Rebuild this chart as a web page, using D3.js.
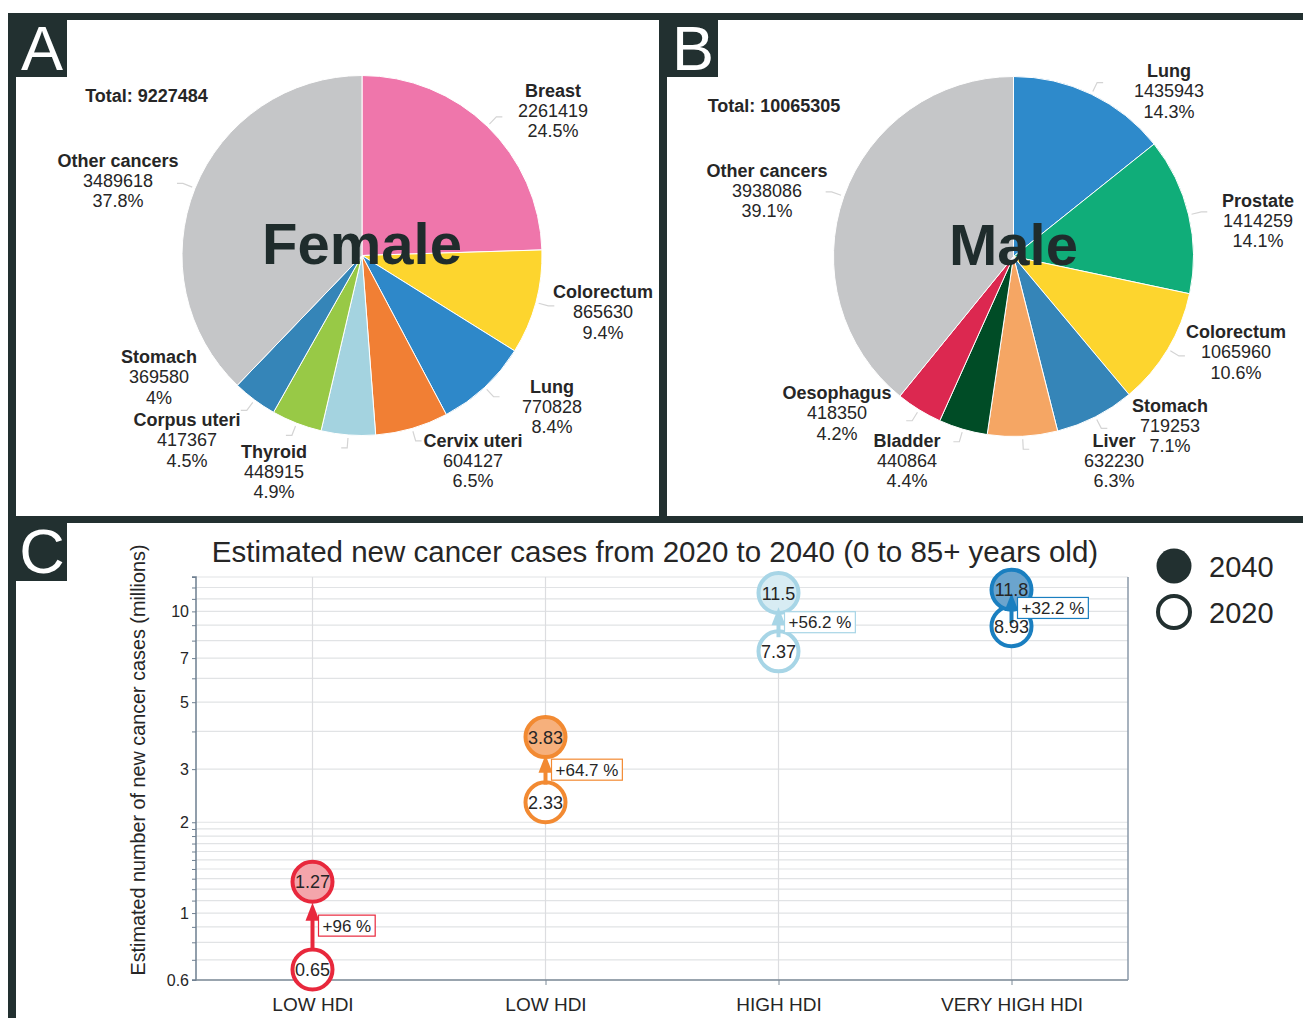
<!DOCTYPE html>
<html><head><meta charset="utf-8">
<script src="https://cdn.jsdelivr.net/npm/d3@7"></script>
<style>
body{margin:0;background:#fff}
svg{display:block;font-family:"Liberation Sans",Arial,Helvetica,sans-serif}
</style>
</head><body>
<script>
// ---------- DATA ----------
const femaleSites = ["Breast","Colorectum","Lung","Cervix uteri","Thyroid","Corpus uteri","Stomach","Other cancers"];
const femaleCases = [2261419,865630,770828,604127,448915,417367,369580,3489618];
const femalePercents = ["24.5%","9.4%","8.4%","6.5%","4.9%","4.5%","4%","37.8%"];
const femaleTotal = 9227484;

const maleSites = ["Lung","Prostate","Colorectum","Stomach","Liver","Bladder","Oesophagus","Other cancers"];
const maleCases = [1435943,1414259,1065960,719253,632230,440864,418350,3938086];
const malePercents = ["14.3%","14.1%","10.6%","7.1%","6.3%","4.4%","4.2%","39.1%"];
const maleTotal = 10065305;

const hdiCategories = ["LOW HDI","LOW HDI","HIGH HDI","VERY HIGH HDI"];
const cases2020 = [0.65, 2.33, 7.37, 8.93];
const cases2040 = [1.27, 3.83, 11.5, 11.8];
const changeLabels = ["+96 %","+64.7 %","+56.2 %","+32.2 %"];
const yTickValues = [0.6, 1, 2, 3, 5, 7, 10];
const yGridValues = [0.6,0.7,0.8,0.9,1,1.1,1.2,1.3,1.4,1.5,1.6,1.7,1.8,1.9,2,3,4,5,6,7,8,9,10,11,12,13];
const legendYears = ["2040","2020"];

// ---------- STYLE / LAYOUT ----------
const femaleColors = ["#ef76ab","#fdd52e","#2e88c9","#f17f34","#a4d3e0","#98c946","#3585b8","#c5c6c8"];
const maleColors = ["#2e8acb","#10ad79","#fdd52e","#3585b8","#f5a664","#004c26","#dc2850","#c5c6c8"];
const hdiStroke = ["#e8283c","#f28a32","#a7d5e6","#1a7fc0"];
const hdiFill = ["#f4a5ab","#f6b07c","#d7ecf3","#6ba4cd"];
const frameColor = "#223030";
const textColor = "#262626";

// label anchor (center x, baseline of first line)
const femaleLabelPos = [[553,96.5],[603,298],[552,392.5],[473,446.5],[274,457.5],[187,426],[159,363],[118,166.5]];
const maleLabelPos = [[1169,77],[1258,206.5],[1236,338],[1170,411.5],[1114,446.5],[907,446.5],[837,399],[767,176.5]];

const W = 1303, H = 1018;
const svg = d3.select("body").append("svg").attr("width", W).attr("height", H);
svg.append("rect").attr("width", W).attr("height", H).attr("fill", "#fff");

// ---------- PIES ----------
function drawPie(cx, cy, r, sites, cases, percents, colors, labelPos, title, totalText, totalPos) {
  const g = svg.append("g");
  const pie = d3.pie().sort(null).value(d => d)(cases);
  const arc = d3.arc().innerRadius(0).outerRadius(r);
  g.append("g").attr("transform", `translate(${cx},${cy})`)
    .selectAll("path").data(pie).join("path")
    .attr("d", arc).attr("fill", (d, i) => colors[i])
    .attr("stroke", "#fff").attr("stroke-width", 1);
  // leader lines
  g.append("g").attr("transform", `translate(${cx},${cy})`)
    .selectAll("path.leader").data(pie).join("path")
    .attr("fill", "none").attr("stroke", "#d4d4d4").attr("stroke-width", 1.2)
    .attr("d", d => {
      const a = (d.startAngle + d.endAngle) / 2;
      const s = Math.sin(a), c = -Math.cos(a);
      const p1 = [s * (r + 3), c * (r + 3)];
      const p2 = [s * (r + 13), c * (r + 13)];
      const p3 = [p2[0] + (s >= 0 ? 6 : -6), p2[1]];
      return d3.line()([p1, p2, p3]);
    });
  // title in center
  g.append("text").attr("x", cx).attr("y", cy + 8).attr("text-anchor", "middle")
    .attr("font-size", 58).attr("font-weight", "bold").attr("fill", "#1f2c2c").text(title);
  // total
  g.append("text").attr("x", totalPos[0]).attr("y", totalPos[1]).attr("text-anchor", "middle")
    .attr("font-size", 18).attr("font-weight", "bold").attr("fill", textColor).text(totalText);
  // labels
  const lg = g.selectAll("g.lab").data(sites).join("g")
    .attr("transform", (d, i) => `translate(${labelPos[i][0]},${labelPos[i][1]})`);
  lg.append("text").attr("text-anchor", "middle").attr("font-size", 18).attr("font-weight", "bold")
    .attr("fill", textColor).text(d => d);
  lg.append("text").attr("y", 20.4).attr("text-anchor", "middle").attr("font-size", 18)
    .attr("fill", textColor).text((d, i) => cases[i]);
  lg.append("text").attr("y", 40.8).attr("text-anchor", "middle").attr("font-size", 18)
    .attr("fill", textColor).text((d, i) => percents[i]);
}
drawPie(362, 255.5, 180, femaleSites, femaleCases, femalePercents, femaleColors, femaleLabelPos,
  "Female", "Total: " + femaleTotal, [146.5, 101.5]);
drawPie(1013.5, 256.5, 180, maleSites, maleCases, malePercents, maleColors, maleLabelPos,
  "Male", "Total: " + maleTotal, [774, 111.5]);

// ---------- PANEL C ----------
const x0 = 196, x1 = 1128, yT = 577, yB = 980;
const x = d3.scalePoint().domain(d3.range(hdiCategories.length)).range([x0, x1]).padding(0.5);
const y = d3.scaleLog().domain([0.6, 13]).range([yB, yT]);
const c = svg.append("g");

// grid
c.append("g").selectAll("line").data(yGridValues).join("line")
  .attr("x1", x0).attr("x2", x1).attr("y1", d => y(d)).attr("y2", d => y(d))
  .attr("stroke", "#e1e3e5").attr("stroke-width", 1.2);
c.append("g").selectAll("line").data(d3.range(hdiCategories.length)).join("line")
  .attr("x1", d => x(d)).attr("x2", d => x(d)).attr("y1", yT).attr("y2", yB)
  .attr("stroke", "#dcdde0").attr("stroke-width", 1.2);

// axes
const yAxis = d3.axisLeft(y).tickValues(yGridValues).tickSize(4)
  .tickFormat(d => yTickValues.includes(d) ? d : "");
const ya = c.append("g").attr("transform", `translate(${x0},0)`).call(yAxis);
ya.select(".domain").attr("stroke", "#6e7f90").attr("stroke-width", 1.5).attr("d", `M-4,${yT}H0V${yB}H-4`);
ya.selectAll(".tick line").attr("stroke", "#6e7f90");
ya.selectAll(".tick text").attr("font-size", 16).attr("fill", textColor)
  .attr("font-family", "Liberation Sans, Arial, sans-serif").attr("x", -7);

const xAxis = d3.axisBottom(x).tickSize(5).tickFormat(i => hdiCategories[i]);
const xa = c.append("g").attr("transform", `translate(0,${yB})`).call(xAxis);
xa.select(".domain").attr("stroke", "#7d8a97").attr("stroke-width", 1.3).attr("d", `M${x0},0H${x1}`);
xa.selectAll(".tick line").attr("stroke", "#7d8a97");
xa.selectAll(".tick text").attr("font-size", 19).attr("fill", textColor)
  .attr("font-family", "Liberation Sans, Arial, sans-serif").attr("dy", 0).attr("y", 31);

// right border
c.append("line").attr("x1", x1).attr("x2", x1).attr("y1", yT).attr("y2", yB)
  .attr("stroke", "#8a99a8").attr("stroke-width", 1.5);

// title
c.append("text").attr("x", 655).attr("y", 561.5).attr("text-anchor", "middle")
  .attr("font-size", 29.5).attr("fill", textColor)
  .text("Estimated new cancer cases from 2020 to 2040 (0 to 85+ years old)");
// y axis title
c.append("text").attr("transform", `translate(145,760) rotate(-90)`)
  .attr("text-anchor", "middle").attr("font-size", 19.8).attr("fill", textColor)
  .text("Estimated number of new cancer cases (millions)");

// points
const R = 20;
const idx = d3.range(hdiCategories.length);
c.append("g").selectAll("circle").data(idx).join("circle")
  .attr("cx", i => x(i)).attr("cy", i => y(cases2020[i])).attr("r", R)
  .attr("fill", "#fff").attr("stroke", i => hdiStroke[i]).attr("stroke-width", 4);
c.append("g").selectAll("circle").data(idx).join("circle")
  .attr("cx", i => x(i)).attr("cy", i => y(cases2040[i])).attr("r", R)
  .attr("fill", i => hdiFill[i]).attr("stroke", i => hdiStroke[i]).attr("stroke-width", 4);

// arrows
function arrowEnds(i) {
  const a = y(cases2020[i]), b = y(cases2040[i]);
  let tail = a - R - 1, head = b + R + 1;
  if (tail - head < 30) { const m = (a + b) / 2; tail = m + 15; head = m - 15; }
  return [tail, head];
}
const ag = c.append("g");
idx.forEach(i => {
  const [tail, head] = arrowEnds(i);
  const cx = x(i);
  ag.append("line").attr("x1", cx).attr("x2", cx).attr("y1", tail).attr("y2", head + 14)
    .attr("stroke", hdiStroke[i]).attr("stroke-width", 4);
  ag.append("path").attr("d", `M${cx},${head}L${cx - 7},${head + 18}L${cx + 7},${head + 18}Z`)
    .attr("fill", hdiStroke[i]);
});

// change label boxes
idx.forEach(i => {
  const my = (y(cases2020[i]) + y(cases2040[i])) / 2;
  const bx = x(i) + 6;
  const t = c.append("text").attr("x", bx + 4).attr("y", my + 6).attr("font-size", 17)
    .attr("fill", textColor).text(changeLabels[i]);
  const w = t.node().getComputedTextLength();
  c.insert("rect", () => t.node()).attr("x", bx).attr("y", my - 10.5).attr("width", w + 8).attr("height", 21)
    .attr("fill", "#fff").attr("stroke", hdiStroke[i]).attr("stroke-width", 1.2);
});

// circle value labels
c.append("g").selectAll("text").data(idx).join("text")
  .attr("x", i => x(i)).attr("y", i => y(cases2020[i]) + 6.5).attr("text-anchor", "middle")
  .attr("font-size", 18).attr("fill", textColor).text(i => cases2020[i]);
c.append("g").selectAll("text").data(idx).join("text")
  .attr("x", i => x(i)).attr("y", i => y(cases2040[i]) + 6.5).attr("text-anchor", "middle")
  .attr("font-size", 18).attr("fill", textColor).text(i => cases2040[i]);

// legend
const leg = svg.append("g");
leg.append("circle").attr("cx", 1174).attr("cy", 566).attr("r", 17.5).attr("fill", frameColor);
leg.append("circle").attr("cx", 1174).attr("cy", 612).attr("r", 16).attr("fill", "#fff")
  .attr("stroke", frameColor).attr("stroke-width", 4);
leg.selectAll("text").data(legendYears).join("text")
  .attr("x", 1209).attr("y", (d, i) => 577 + i * 46).attr("font-size", 29).attr("fill", textColor).text(d => d);

// ---------- FRAME ----------
const fr = svg.append("g").attr("fill", frameColor);
fr.append("rect").attr("x", 8).attr("y", 13).attr("width", W - 8).attr("height", 7);
fr.append("rect").attr("x", 8).attr("y", 13).attr("width", 8).attr("height", H - 13);
fr.append("rect").attr("x", 659).attr("y", 13).attr("width", 8).attr("height", 507);
fr.append("rect").attr("x", 8).attr("y", 516).attr("width", W - 8).attr("height", 7);
const boxes = [["A", 8, 13, 64], ["B", 659, 13, 64], ["C", 8, 516, 65]];
boxes.forEach(([L, bx, by, bh]) => {
  fr.append("rect").attr("x", bx).attr("y", by).attr("width", 59).attr("height", bh);
  svg.append("text").attr("x", bx + 34).attr("y", by + 57).attr("text-anchor", "middle")
    .attr("font-size", 63).attr("font-weight", 300).attr("fill", "#fff").text(L);
});
</script>
</body></html>
